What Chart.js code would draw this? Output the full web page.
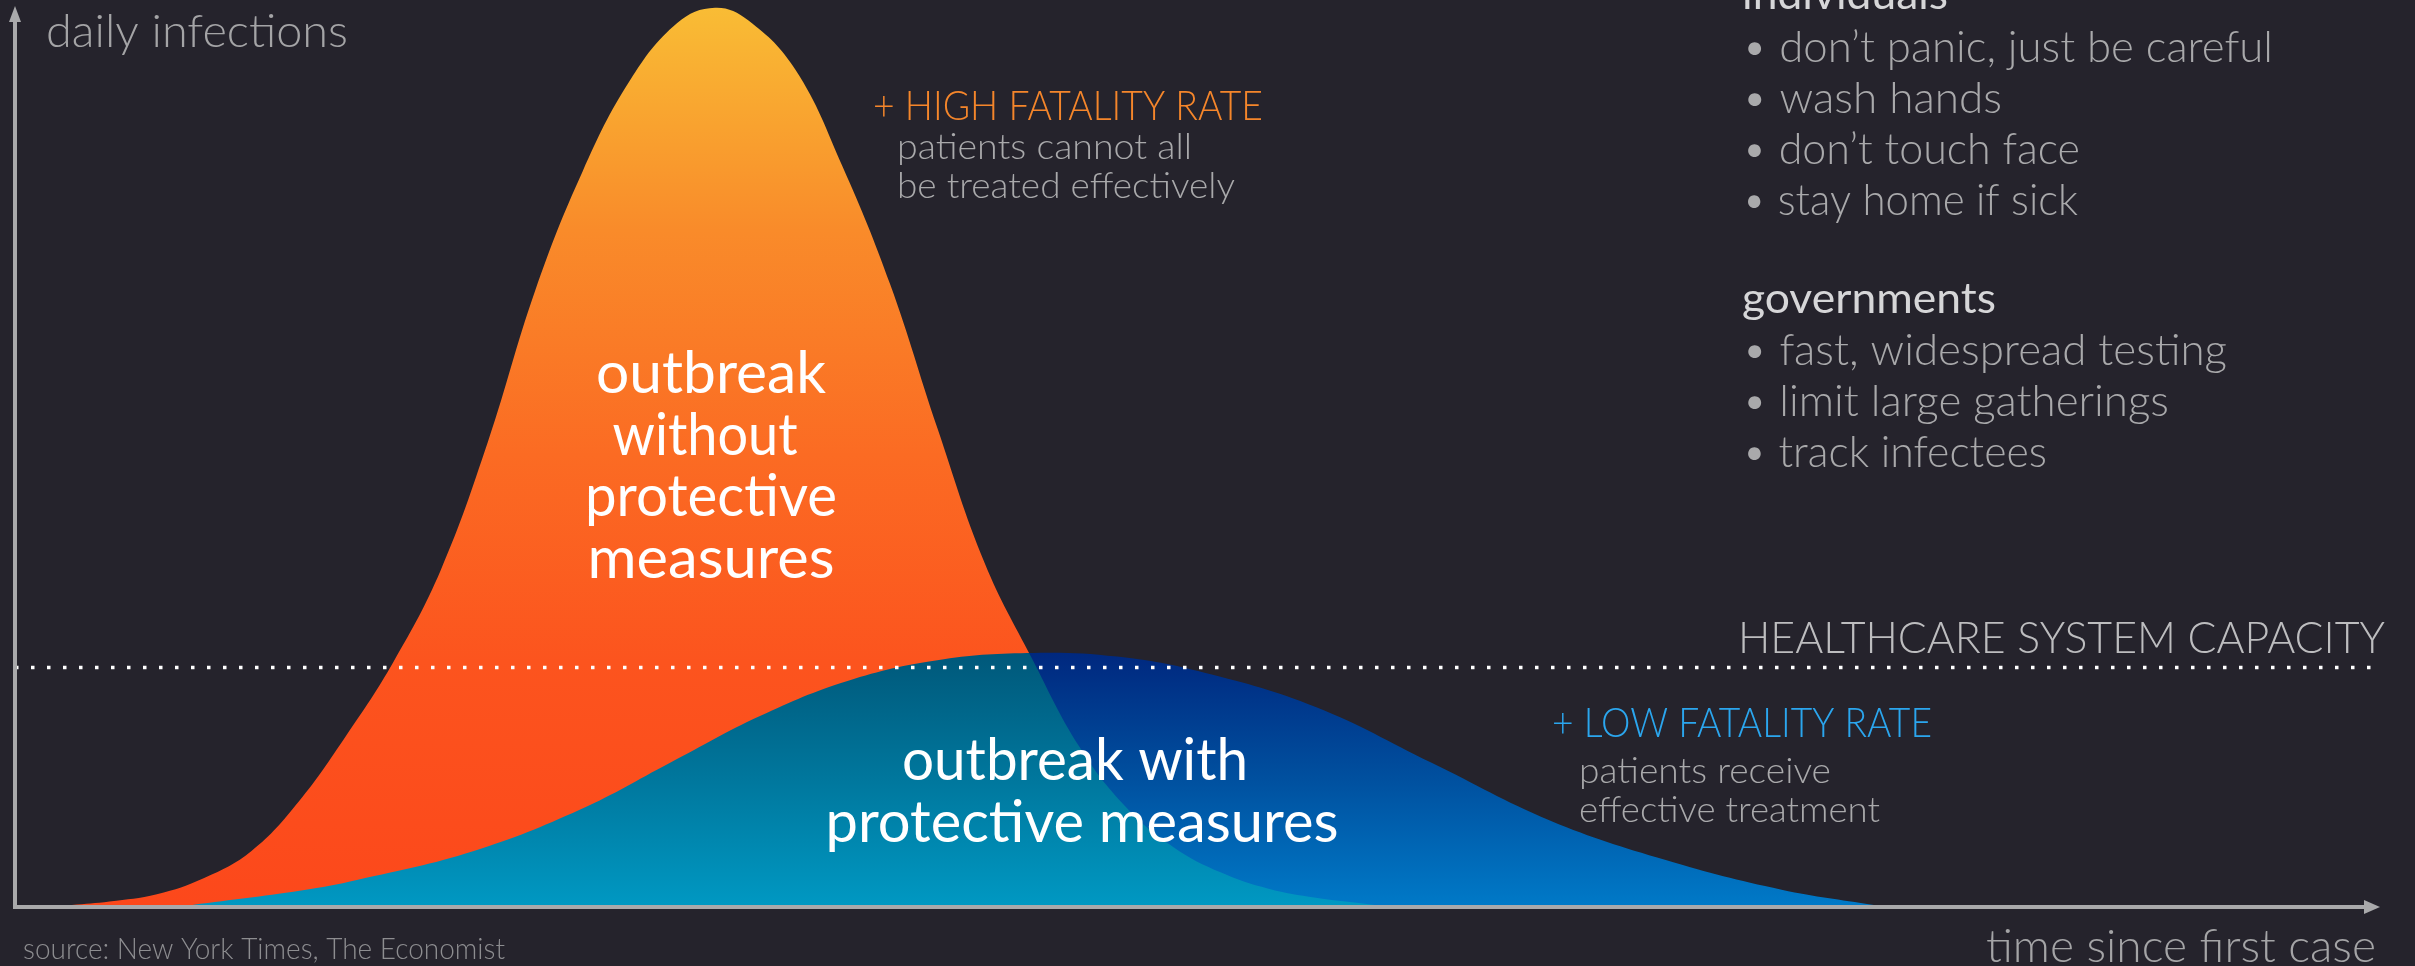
<!DOCTYPE html>
<html>
<head>
<meta charset="utf-8">
<script src="https://cdn.jsdelivr.net/npm/chart.js@4.4.1/dist/chart.umd.min.js"></script>
<style>
  html, body { margin: 0; padding: 0; background: #25232c; overflow: hidden; }
  canvas { display: block; }
</style>
</head>
<body>
<canvas id="curveChart" width="2415" height="966"></canvas>
<script>
// ---------- data ----------
// time since first case (0-100 along the x axis), daily infections (0-100)
const noMeasuresDays  = [2.4, 4, 6, 8, 10, 12, 14, 16, 18, 20, 22, 24, 26, 28, 29.6, 31, 33, 35, 37, 39, 41, 43, 45, 47, 49, 51, 53, 55, 57.5];
const noMeasuresCases = [0, 0.4, 1.2, 3.0, 6.0, 11.5, 18.8, 27.0, 37.2, 51.5, 68.3, 81.5, 91.6, 98.0, 99.7, 98.3, 92.8, 82.0, 69.0, 53.0, 38.0, 27.4, 17.6, 10.8, 6.4, 3.6, 1.8, 0.8, 0];

const measuresDays  = [7.5, 12.1, 14.5, 19.4, 23.9, 27.7, 31.5, 35.2, 39.0, 42.8, 46.6, 50.3, 55.0, 59.9, 64.9, 69.8, 74.7, 78.6];
const measuresCases = [0, 1.6, 2.8, 6.0, 10.6, 15.8, 21.0, 24.9, 27.2, 28.0, 27.6, 25.8, 22.0, 15.8, 9.4, 5.0, 1.7, 0];

const capacityDays  = [0, 100];
const capacityLevel = 26.4;

const individualTips = ["• don’t panic, just be careful", "• wash hands", "• don’t touch face", "• stay home if sick"];
const governmentTips = ["• fast, widespread testing", "• limit large gatherings", "• track infectees"];

// ---------- helpers ----------
function toPoints(xs, ys) {
  return xs.map((x, i) => ({ x: x, y: ys[i] }));
}

// vertical gradient, stops given as [value, colour]
function valueGradient(stops) {
  return (c) => {
    const chart = c.chart;
    if (!chart.chartArea) return "transparent";
    const y = chart.scales.y;
    const top = y.getPixelForValue(100), bottom = y.getPixelForValue(0);
    const g = chart.ctx.createLinearGradient(0, top, 0, bottom);
    stops.forEach(s => g.addColorStop((100 - s[0]) / 100, s[1]));
    return g;
  };
}

// draw text squeezed/stretched to a given width
function fitText(ctx, text, x, y, width, align) {
  const w = ctx.measureText(text).width;
  ctx.save();
  ctx.translate(x, y);
  ctx.scale(width / w, 1);
  ctx.textAlign = align;
  ctx.fillText(text, 0, 0);
  ctx.restore();
}

// the blue curve is drawn twice: once only over the orange (teal), once only behind it (navy)
const compositePlugin = {
  id: "composite",
  afterDatasetDraw(chart, args) {
    const metas = chart.getSortedVisibleDatasetMetas();
    const next = metas[metas.indexOf(args.meta) - 1];
    const ds = next ? chart.data.datasets[next.index] : null;
    chart.ctx.globalCompositeOperation = (ds && ds.composite) || "source-over";
  },
  afterDatasetsDraw(chart) {
    chart.ctx.globalCompositeOperation = "source-over";
  }
};

const decorPlugin = {
  id: "decor",
  afterDraw(chart) {
    const ctx = chart.ctx;
    const area = chart.chartArea;
    const x0 = chart.scales.x.getPixelForValue(0);
    const y0 = chart.scales.y.getPixelForValue(0);
    ctx.save();
    ctx.globalCompositeOperation = "source-over";

    // axes with arrow heads
    ctx.strokeStyle = "#a9a9ab";
    ctx.fillStyle = "#a9a9ab";
    ctx.lineWidth = 4;
    ctx.beginPath();
    ctx.moveTo(x0, 16);
    ctx.lineTo(x0, y0 + 2);
    ctx.lineTo(area.right - 12, y0 + 2);
    ctx.stroke();
    ctx.beginPath();
    ctx.moveTo(x0, 6); ctx.lineTo(x0 - 6, 22); ctx.lineTo(x0 + 6, 22); ctx.closePath();
    ctx.fill();
    ctx.beginPath();
    ctx.moveTo(area.right, y0 + 2); ctx.lineTo(area.right - 16, y0 - 5); ctx.lineTo(area.right - 16, y0 + 9); ctx.closePath();
    ctx.fill();

    ctx.textBaseline = "alphabetic";

    // axis titles and source
    ctx.fillStyle = "#a4a4a6";
    ctx.font = "300 46px Lato, 'Open Sans', sans-serif";
    fitText(ctx, "daily infections", 46, 47, 302, "left");
    fitText(ctx, "time since first case", 2376, 962, 390, "right");
    ctx.fillStyle = "#8d8d90";
    ctx.font = "300 29px Lato, 'Open Sans', sans-serif";
    fitText(ctx, "source: New York Times, The Economist", 23, 959, 482, "left");

    // capacity label
    ctx.fillStyle = "#bdbdbf";
    ctx.font = "300 44px Lato, 'Open Sans', sans-serif";
    fitText(ctx, "HEALTHCARE SYSTEM CAPACITY", 2385, 653, 647, "right");

    // fatality notes
    ctx.font = "300 41px Lato, 'Open Sans', sans-serif";
    ctx.fillStyle = "#f5862b";
    fitText(ctx, "+ HIGH FATALITY RATE", 873, 120, 390, "left");
    ctx.fillStyle = "#2ba6ee";
    fitText(ctx, "+ LOW FATALITY RATE", 1552, 737, 380, "left");
    ctx.fillStyle = "#a9a9ab";
    ctx.font = "300 35px Lato, 'Open Sans', sans-serif";
    fitText(ctx, "patients cannot all", 897, 159, 295, "left");
    fitText(ctx, "be treated effectively", 897, 198, 338, "left");
    fitText(ctx, "patients receive", 1579, 783, 252, "left");
    fitText(ctx, "effective treatment", 1579, 822, 301, "left");

    // advice lists
    const listX = 1742;
    const indWidths = [531, 260, 338, 336];
    const govWidths = [485, 427, 305];
    ctx.font = "400 43px Lato, 'Open Sans', sans-serif";
    ctx.fillStyle = "#d6d6d8";
    fitText(ctx, "individuals", listX, 9, 206, "left");
    fitText(ctx, "governments", listX, 313, 254, "left");
    ctx.font = "300 43px Lato, 'Open Sans', sans-serif";
    ctx.fillStyle = "#a9a9ab";
    individualTips.forEach((t, i) => fitText(ctx, t, listX, 62 + i * 51, indWidths[i], "left"));
    governmentTips.forEach((t, i) => fitText(ctx, t, listX, 365 + i * 51, govWidths[i], "left"));

    // curve labels
    ctx.fillStyle = "#ffffff";
    ctx.font = "400 58px Lato, 'Open Sans', sans-serif";
    fitText(ctx, "outbreak", 711, 393, 230, "center");
    fitText(ctx, "without", 705, 455, 185, "center");
    fitText(ctx, "protective", 711, 516, 252, "center");
    fitText(ctx, "measures", 711, 578, 247, "center");
    fitText(ctx, "outbreak with", 1075, 780, 346, "center");
    fitText(ctx, "protective measures", 1082, 842, 513, "center");

    ctx.restore();
  }
};

const ctx = document.getElementById("curveChart").getContext("2d");

new Chart(ctx, {
  type: "line",
  data: {
    datasets: [
      {
        label: "outbreak without protective measures",
        data: toPoints(noMeasuresDays, noMeasuresCases),
        fill: "origin",
        backgroundColor: valueGradient([[100, "#f9bd35"], [75, "#f98b2a"], [50, "#fb6b23"], [27, "#fc541e"], [0, "#fc481b"]]),
        borderColor: "transparent",
        borderWidth: 0,
        pointRadius: 0,
        tension: 0.4,
        order: 4
      },
      {
        label: "outbreak with protective measures",
        data: toPoints(measuresDays, measuresCases),
        composite: "source-atop",
        fill: "origin",
        backgroundColor: valueGradient([[28, "#00587a"], [14, "#00779d"], [0, "#0098c2"]]),
        borderColor: "transparent",
        borderWidth: 0,
        pointRadius: 0,
        tension: 0.4,
        order: 3
      },
      {
        label: "outbreak with protective measures (outside)",
        data: toPoints(measuresDays, measuresCases),
        composite: "destination-over",
        fill: "origin",
        backgroundColor: valueGradient([[28, "#00287f"], [14, "#00509f"], [0, "#0079c7"]]),
        borderColor: "transparent",
        borderWidth: 0,
        pointRadius: 0,
        tension: 0.4,
        order: 2
      },
      {
        label: "healthcare system capacity",
        data: capacityDays.map(d => ({ x: d, y: capacityLevel })),
        fill: false,
        borderColor: "#ffffff",
        borderWidth: 3.5,
        borderDash: [3.5, 12.5],
        borderCapStyle: "butt",
        pointRadius: 0,
        order: 1
      }
    ]
  },
  options: {
    responsive: false,
    devicePixelRatio: 1,
    animation: false,
    layout: { padding: { left: 15, right: 35, top: 5, bottom: 61 } },
    scales: {
      x: { type: "linear", min: 0, max: 100, display: false },
      y: { min: 0, max: 100, display: false }
    },
    plugins: {
      legend: { display: false },
      tooltip: { enabled: false }
    }
  },
  plugins: [compositePlugin, decorPlugin]
});
</script>
</body>
</html>
